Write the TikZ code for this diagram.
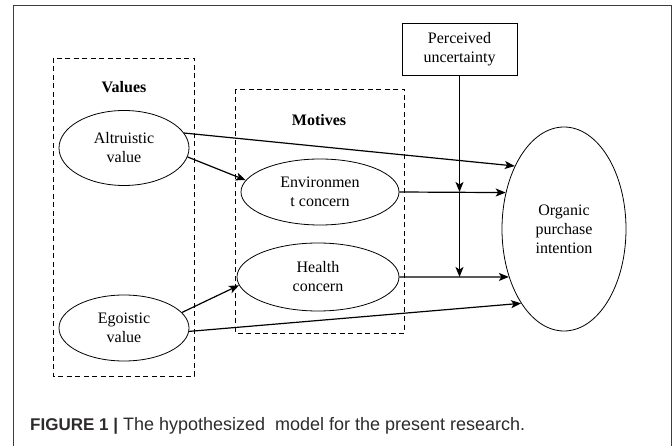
\documentclass[tikz,border=0pt]{standalone}
\usepackage{fontspec}
\setmainfont{Liberation Serif}
\setsansfont{Liberation Sans}
\usepackage{tikz}
\usetikzlibrary{arrows.meta,positioning,calc,shapes.geometric}
\definecolor{captiongray}{HTML}{2E2B2C}
\definecolor{framegray}{HTML}{3C3C3C}

\begin{document}
\begin{tikzpicture}[x=1pt,y=-1pt,
      construct/.style={ellipse, draw, line width=0.8pt, inner sep=0pt, align=center,
        font=\fontsize{16}{19}\selectfont},
      moderator/.style={rectangle, draw, line width=0.8pt, inner sep=0pt, align=center,
        minimum width=115pt, minimum height=52pt, font=\fontsize{16}{19}\selectfont},
      group/.style={draw, dashed, line width=0.8pt, dash pattern=on 5pt off 3.5pt},
      grouplabel/.style={font=\fontsize{16}{19}\selectfont\bfseries},
      msg/.style={-{Stealth[length=10pt,width=8pt,inset=2.5pt]}, line width=1.2pt}
    ]
    \useasboundingbox (0,0) rectangle (672,446);
    \draw[framegray, line width=1pt] (13,446) -- (13,6) -- (671,6) -- (671,446);

    \draw[group] (53,58) rectangle (194,376);
    \draw[group] (235,89) rectangle (404,333);
    \node[grouplabel] (vlab) at (124,87) {Values};
    \node[grouplabel] (mlab) at (319,120) {Motives};

    \node[construct, minimum width=130pt, minimum height=75pt] (alt) at (124,148) {Altruistic\\value};
    \node[construct, minimum width=130pt, minimum height=66pt] (ego) at (124,328) {Egoistic\\value};
    \node[construct, minimum width=158pt, minimum height=66pt] (env) at (320,192) {Environmen\\t concern};
    \node[construct, minimum width=162pt, minimum height=68pt] (hc) at (318,277) {Health\\concern};
    \node[construct, minimum width=124pt, minimum height=204pt] (org) at (564,229) {Organic\\purchase\\intention};
    \node[moderator] (pu) at (459.5,49) {Perceived\\uncertainty};

    \draw[msg] (alt.14) -- (org.128);
    \draw[msg] (alt.-8) -- (env.171);
    \draw[msg] (env.east) -- (org.148);
    \draw[msg] (hc.east) -- (org.221);
    \draw[msg] (ego.15) -- (hc.186);
    \draw[msg] (ego.-3) -- (org.240);

    \coordinate (m1) at (pu.south |- env.east);
    \coordinate (m2) at (pu.south |- hc.east);
    \draw[msg] (pu.south) -- (m1);
    \draw[msg] (m1) -- (m2);

    \node[anchor=base west, font=\sffamily\fontsize{18}{20}\selectfont, text=captiongray, inner sep=0pt] (cap) at (30,430)
      {{\fontsize{17}{20}\selectfont\bfseries FIGURE 1 |} The hypothesized\ \ model for the present research.};
  \end{tikzpicture}
\end{document}
